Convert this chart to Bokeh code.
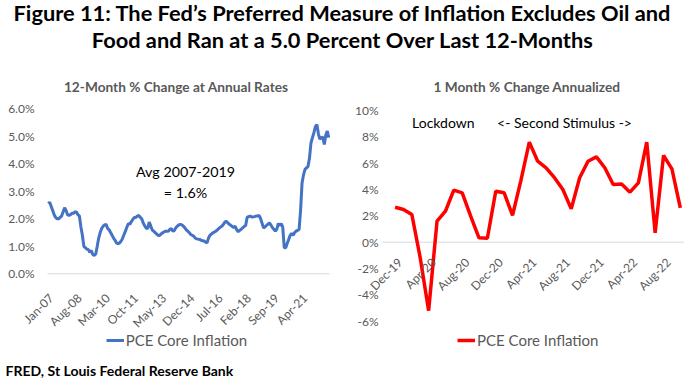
import math
from bokeh.plotting import figure
from bokeh.models import (Label, Legend, LegendItem, Range1d)
from bokeh.embed import file_html
from bokeh.resources import INLINE
from bokeh.core.properties import value

FONT = "Lato"
GRAY = "#595959"
AXIS_GRAY = "#D9D9D9"
BLUE = "#4472C4"
RED = "#FF0000"

title_lines = ["Figure 11: The Fed\u2019s Preferred Measure of Inflation Excludes Oil and",
               "Food and Ran at a 5.0 Percent Over Last 12-Months"]
footnote = "FRED, St Louis  Federal Reserve Bank"
legend_label = "PCE Core Inflation"

# ---- left chart: 12-month % change, monthly Jan-07 .. Oct-22
left_title = "12-Month % Change at Annual Rates"
left_values = [
    2.55, 2.6, 2.45, 2.3, 2.15, 2.05, 2.0, 2.0, 2.05, 2.1, 2.25, 2.4,      # 2007
    2.3, 2.15, 2.12, 2.15, 2.2, 2.2, 2.25, 2.25, 2.15, 2.1, 1.7, 1.4,      # 2008
    1.0, 0.95, 0.9, 0.88, 0.78, 0.85, 0.7, 0.67, 0.72, 1.0, 1.3, 1.5,      # 2009
    1.65, 1.73, 1.78, 1.8, 1.65, 1.6, 1.5, 1.4, 1.3, 1.22, 1.12, 1.1,      # 2010
    1.12, 1.18, 1.28, 1.42, 1.55, 1.7, 1.83, 1.8, 1.9, 1.98, 2.05, 2.05,   # 2011
    2.1, 2.12, 2.05, 2.0, 1.85, 1.75, 1.66, 1.64, 1.88, 1.75, 1.6, 1.55,   # 2012
    1.5, 1.45, 1.4, 1.39, 1.45, 1.49, 1.52, 1.55, 1.55, 1.55, 1.62, 1.64,  # 2013
    1.55, 1.58, 1.68, 1.73, 1.78, 1.8, 1.78, 1.73, 1.68, 1.6, 1.55, 1.5,   # 2014
    1.43, 1.4, 1.37, 1.3, 1.27, 1.26, 1.25, 1.22, 1.2, 1.19, 1.15, 1.13,   # 2015
    1.3, 1.4, 1.45, 1.49, 1.52, 1.55, 1.6, 1.65, 1.7, 1.73, 1.8, 1.88,     # 2016
    1.91, 1.85, 1.8, 1.76, 1.72, 1.68, 1.73, 1.6, 1.53, 1.58, 1.62, 1.67,  # 2017
    1.72, 1.76, 2.05, 2.08, 2.1, 2.07, 2.07, 2.08, 2.1, 2.1, 2.12, 2.02,   # 2018
    1.85, 1.67, 1.7, 1.76, 1.8, 1.85, 1.78, 1.68, 1.62, 1.55, 1.62, 1.83,  # 2019
    1.75, 1.83, 1.7, 0.95, 0.95, 1.1, 1.25, 1.4, 1.47, 1.4, 1.5, 1.55,     # 2020
    1.58, 1.61, 2.3, 3.3, 3.6, 3.8, 3.85, 3.9, 4.2, 4.75, 4.95, 5.13,      # 2021
    5.35, 5.43, 5.1, 4.9, 4.95, 4.97, 4.7, 5.05, 5.19, 4.95,               # 2022
]
left_tick_idx = [0, 19, 38, 57, 76, 95, 114, 133, 152, 171]
left_tick_labels = ["Jan-07", "Aug-08", "Mar-10", "Oct-11", "May-13", "Dec-14",
                    "Jul-16", "Feb-18", "Sep-19", "Apr-21"]
left_y_ticks = [0, 1, 2, 3, 4, 5, 6]
left_y_labels = ["0.0%", "1.0%", "2.0%", "3.0%", "4.0%", "5.0%", "6.0%"]
left_note = ["Avg 2007-2019", "= 1.6%"]

# ---- right chart: 1-month % change annualized, Dec-19 .. Oct-22
right_title = "1 Month % Change Annualized"
right_values = [2.65, 2.48, 2.1, -1.2, -5.2, 1.6, 2.35, 3.95, 3.75, 2.0, 0.33, 0.3,
                3.87, 3.75, 2.03, 4.7, 7.6, 6.15, 5.65, 4.9, 4.0, 2.53, 4.89, 6.15,
                6.48, 5.65, 4.38, 4.42, 3.8, 4.51, 7.6, 0.71, 6.58, 5.57, 2.6]
right_tick_idx = [0, 4, 8, 12, 16, 20, 24, 28, 32]
right_tick_labels = ["Dec-19", "Apr-20", "Aug-20", "Dec-20", "Apr-21", "Aug-21",
                     "Dec-21", "Apr-22", "Aug-22"]
right_y_ticks = [-6, -4, -2, 0, 2, 4, 6, 8, 10]
right_y_labels = ["-6%", "-4%", "-2%", "0%", "2%", "4%", "6%", "8%", "10%"]
right_notes = ["Lockdown", "<- Second Stimulus ->"]

# ---------------- page canvas (one figure, frame = whole canvas)
W, H = 684, 378
p = figure(width=W, height=H, x_range=Range1d(0, W), y_range=Range1d(0, H),
           x_axis_type=None, y_axis_type=None, title=None, output_backend="svg",
           toolbar_location=None, min_border=0)
p.outline_line_color = None
p.background_fill_color = "white"
p.border_fill_color = "white"
p.xgrid.visible = False
p.ygrid.visible = False


def panel_ranges(box, xlim, ylim):
    """Data ranges so that xlim/ylim fill the pixel box (left, right, top, bottom)."""
    left, right, top, bottom = box
    a, b = xlim
    sx = (b - a) / (right - left)
    c, d = ylim
    sy = (d - c) / (bottom - top)
    xr = Range1d(a - left * sx, b + (W - right) * sx)
    yr = Range1d(c - (H - bottom) * sy, d + top * sy)
    return xr, yr, sx, sy


L_BOX = (47, 329, 108.3, 273.3)
L_XLIM = (-0.5, len(left_values) - 0.5)
L_YLIM = (left_y_ticks[0], left_y_ticks[-1])
R_BOX = (382, 684, 110, 320.7)
R_XLIM = (-1.5, len(right_values) - 0.5)
R_YLIM = (right_y_ticks[0], right_y_ticks[-1])

lxr, lyr, lsx, lsy = panel_ranges(L_BOX, L_XLIM, L_YLIM)
rxr, ryr, rsx, rsy = panel_ranges(R_BOX, R_XLIM, R_YLIM)
p.extra_x_ranges = {"lx": lxr, "rx": rxr}
p.extra_y_ranges = {"ly": lyr, "ry": ryr}

txt = dict(text_font=value(FONT), text_font_size="12px", text_color=GRAY)

# ---------------- main title & footnote
p.add_layout(Label(x=W / 2, y=H - 11.5, text=title_lines[0], text_align="center",
                   text_baseline="middle", text_font=FONT, text_font_size="21.8px",
                   text_font_style="bold", text_color="black"))
p.add_layout(Label(x=W / 2, y=H - 38.5, text=title_lines[1], text_align="center",
                   text_baseline="middle", text_font=FONT, text_font_size="21.8px",
                   text_font_style="bold", text_color="black"))
p.add_layout(Label(x=5, y=H - 369.5, text=footnote, text_align="left",
                   text_baseline="middle", text_font=FONT, text_font_size="14px",
                   text_font_style="bold", text_color="black"))

# ---------------- left chart
p.add_layout(Label(x=175.7, y=H - 85.7, text=left_title, text_align="center",
                   text_baseline="middle", text_font=FONT, text_font_size="13.7px",
                   text_font_style="bold", text_color=GRAY))
p.segment(x0=[L_XLIM[0]], y0=[0], x1=[L_XLIM[1]], y1=[0], line_color=AXIS_GRAY,
          line_width=1, x_range_name="lx", y_range_name="ly")
rl = p.line(list(range(len(left_values))), left_values, line_color=BLUE, line_width=3,
            x_range_name="lx", y_range_name="ly")
p.text(x=[L_XLIM[0] - 13 * lsx] * len(left_y_ticks), y=left_y_ticks, text=left_y_labels,
       text_align="right", text_baseline="middle", x_range_name="lx", y_range_name="ly",
       **txt)
p.text(x=[t + 3 * lsx for t in left_tick_idx], y=[-22 * lsy] * len(left_tick_idx),
       text=left_tick_labels, angle=math.pi / 4, text_align="right",
       text_baseline="middle", x_range_name="lx", y_range_name="ly", **txt)
p.add_layout(Label(x=92.5, y=3.73, text=left_note[0], text_align="center",
                   text_baseline="middle", text_font=FONT, text_font_size="14.3px",
                   text_color="black", x_range_name="lx", y_range_name="ly"))
p.add_layout(Label(x=92.5, y=2.97, text=left_note[1], text_align="center",
                   text_baseline="middle", text_font=FONT, text_font_size="14.3px",
                   text_color="black", x_range_name="lx", y_range_name="ly"))

# ---------------- right chart
p.add_layout(Label(x=526.5, y=H - 85.7, text=right_title, text_align="center",
                   text_baseline="middle", text_font=FONT, text_font_size="13.7px",
                   text_font_style="bold", text_color=GRAY))
p.segment(x0=[R_XLIM[0]], y0=[0], x1=[R_XLIM[1]], y1=[0], line_color=AXIS_GRAY,
          line_width=1, x_range_name="rx", y_range_name="ry")
rr = p.line(list(range(len(right_values))), right_values, line_color=RED, line_width=3.5,
            x_range_name="rx", y_range_name="ry")
p.text(x=[R_XLIM[0] - 4 * rsx] * len(right_y_ticks), y=right_y_ticks, text=right_y_labels,
       text_align="right", text_baseline="middle", x_range_name="rx", y_range_name="ry",
       **txt)
p.text(x=[t + 5 * rsx for t in right_tick_idx], y=[-18 * rsy] * len(right_tick_idx),
       text=right_tick_labels, angle=math.pi / 4, text_align="right",
       text_baseline="middle", x_range_name="rx", y_range_name="ry", **txt)
p.add_layout(Label(x=5.75, y=9.07, text=right_notes[0], text_align="center",
                   text_baseline="middle", text_font=FONT, text_font_size="14px",
                   text_color="black", x_range_name="rx", y_range_name="ry"))
p.add_layout(Label(x=20.2, y=9.07, text=right_notes[1], text_align="center",
                   text_baseline="middle", text_font=FONT, text_font_size="14px",
                   text_color="black", x_range_name="rx", y_range_name="ry"))

# ---------------- legends
leg_style = dict(orientation="horizontal", label_text_font=FONT,
                 label_text_font_size="15px", label_text_color=GRAY,
                 border_line_color=None, background_fill_alpha=0, glyph_width=18,
                 glyph_height=16, label_height=16, label_standoff=2, padding=0,
                 spacing=0, margin=0)
p.add_layout(Legend(items=[LegendItem(label=legend_label, renderers=[rl])],
                    location=(105.7, 29.5), **leg_style))
p.add_layout(Legend(items=[LegendItem(label=legend_label, renderers=[rr])],
                    location=(457, 29.5), **leg_style))

open("out.html", "w").write(file_html(p, INLINE))
